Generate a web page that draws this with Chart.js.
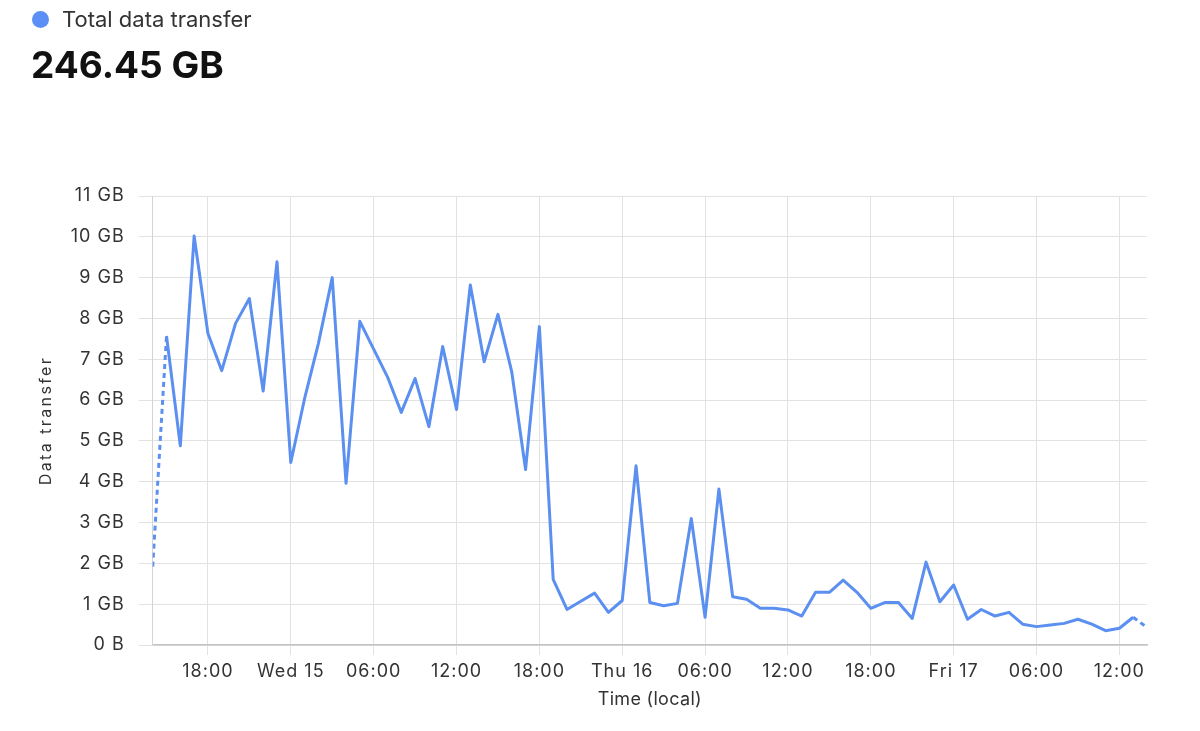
<!DOCTYPE html>
<html>
<head>
<meta charset="utf-8">
<script src="https://cdn.jsdelivr.net/npm/chart.js@4.4.1/dist/chart.umd.min.js"></script>
<style>
  html, body { margin: 0; padding: 0; background: #ffffff; }
  body { width: 1200px; height: 731px; position: relative; overflow: hidden; font-family: Inter, "Noto Sans", sans-serif; }
  #legend { position: absolute; left: 32px; top: 5px; height: 28px; display: flex; align-items: center; font-size: 22px; color: #333; }
  #legend .dot { width: 17px; height: 17px; border-radius: 50%; background: #5b8ff5; margin-right: 13px; }
  #total { position: absolute; left: 31px; top: 42px; font-size: 37px; font-weight: 700; color: #111; }
  #wrap { position: absolute; left: 0; top: 0; width: 1200px; height: 731px; }
</style>
</head>
<body>
<div id="wrap"><canvas id="c" width="1200" height="731"></canvas></div>
<div id="legend"><span class="dot"></span><span>Total data transfer</span></div>
<div id="total">246.45 GB</div>
<script>
// Hourly samples, Tue 14 14:00 -> Fri 17 14:00 (index = hours since start)
const values = [
  1.92, 7.57, 4.88, 10.02, 7.63, 6.72, 7.88, 8.49, 6.22, 9.39,
  4.47, 6.04, 7.39, 9.00, 3.96, 7.93, 7.25, 6.57, 5.70, 6.53,
  5.35, 7.31, 5.77, 8.82, 6.94, 8.10, 6.69, 4.30, 7.80, 1.61,
  0.87, 1.07, 1.27, 0.80, 1.09, 4.39, 1.04, 0.96, 1.02, 3.10,
  0.68, 3.82, 1.18, 1.12, 0.90, 0.90, 0.86, 0.71, 1.29, 1.29,
  1.59, 1.29, 0.90, 1.04, 1.04, 0.65, 2.03, 1.06, 1.47, 0.63,
  0.87, 0.71, 0.80, 0.51, 0.45, 0.49, 0.53, 0.63, 0.51, 0.35,
  0.41, 0.68, 0.43
];
const tickPositions = [4, 10, 16, 22, 28, 34, 40, 46, 52, 58, 64, 70];
const tickLabels = ['18:00', 'Wed 15', '06:00', '12:00', '18:00', 'Thu 16', '06:00', '12:00', '18:00', 'Fri 17', '06:00', '12:00'];
const yTicks = [0, 1, 2, 3, 4, 5, 6, 7, 8, 9, 10, 11];
const yTickLabels = ['0 B', '1 GB', '2 GB', '3 GB', '4 GB', '5 GB', '6 GB', '7 GB', '8 GB', '9 GB', '10 GB', '11 GB'];

const points = values.map((v, i) => ({ x: i, y: v }));
const lastIdx = values.length - 1;
const lineColor = '#5b8ff0';
const family = 'Inter, "Noto Sans", sans-serif';
const tickFont = { family: family, size: 18 };

function withSpacing(scale, fnName, spacing) {
  const orig = scale[fnName].bind(scale);
  scale[fnName] = function () {
    const c = this.ctx;
    const prev = c.letterSpacing;
    c.letterSpacing = spacing;
    orig.apply(null, arguments);
    c.letterSpacing = prev;
  };
}

const spacingPlugin = {
  id: 'spacing',
  beforeDraw(chart) {
    chart.ctx.letterSpacing = '1px';
    const x = chart.scales.x, y = chart.scales.y;
    if (!y._spaced) { withSpacing(y, 'drawTitle', '2.4px'); y._spaced = true; }
    if (!x._spaced) { withSpacing(x, 'drawTitle', '0.3px'); x._spaced = true; }
  },
  afterDraw(chart) { chart.ctx.letterSpacing = '0px'; }
};

new Chart(document.getElementById('c'), {
  type: 'line',
  data: {
    datasets: [{
      label: 'Total data transfer',
      data: points,
      borderColor: lineColor,
      backgroundColor: lineColor,
      borderWidth: 3,
      borderJoinStyle: 'round',
      pointRadius: 0,
      tension: 0,
      fill: false,
      segment: {
        borderDash: ctx => (ctx.p0DataIndex === 0 || ctx.p1DataIndex === lastIdx) ? [5, 4] : undefined
      }
    }]
  },
  plugins: [spacingPlugin],
  options: {
    responsive: false,
    animation: false,
    layout: { padding: { top: 196, right: 53, bottom: 20, left: 0 } },
    plugins: { legend: { display: false }, tooltip: { enabled: false } },
    scales: {
      x: {
        type: 'linear',
        min: 0,
        max: lastIdx,
        afterBuildTicks: s => { s.ticks = tickPositions.map(v => ({ value: v })); },
        afterFit: s => { s.height = 66; },
        ticks: {
          autoSkip: false,
          maxRotation: 0,
          padding: 6,
          color: '#333',
          font: tickFont,
          callback: v => { const i = tickPositions.indexOf(v); return i >= 0 ? tickLabels[i] : ''; }
        },
        grid: { color: '#e2e2e2', lineWidth: 1, tickLength: 10, tickColor: '#e2e2e2' },
        border: { color: '#c4c4c4', width: 1.5 },
        title: { display: true, text: 'Time (local)', color: '#333', font: { family: family, size: 18 }, padding: { top: 0, bottom: 1 } }
      },
      y: {
        min: 0,
        max: 11,
        afterBuildTicks: s => { s.ticks = yTicks.map(v => ({ value: v })); },
        afterFit: s => { s.width = 152.7; },
        ticks: {
          padding: 14,
          color: '#333',
          font: tickFont,
          callback: v => { const i = yTicks.indexOf(v); return i >= 0 ? yTickLabels[i] : ''; }
        },
        grid: { color: '#e2e2e2', lineWidth: 1, tickLength: 14, tickColor: '#e2e2e2' },
        border: { color: '#d4d4d4', width: 1 },
        title: { display: true, text: 'Data transfer', color: '#333', font: { family: family, size: 16 }, padding: { top: 37, bottom: 0 } }
      }
    }
  }
});
</script>
</body>
</html>
